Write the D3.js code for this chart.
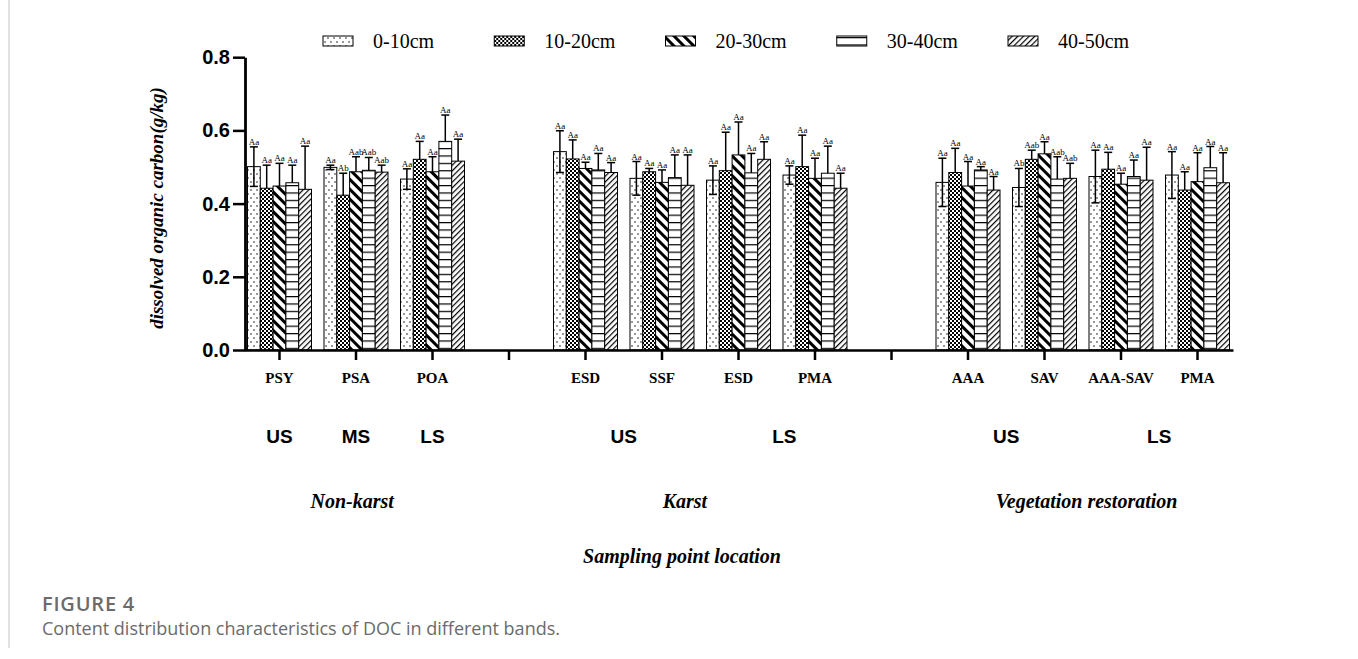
<!DOCTYPE html>
<html>
<head>
<meta charset="utf-8">
<script src="https://cdn.jsdelivr.net/npm/d3@7/dist/d3.min.js"></script>
<style>
  html, body { margin: 0; padding: 0; background: #fff; }
  svg { display: block; }
</style>
</head>
<body>
<svg id="chart" width="1358" height="659"></svg>
<script>
// ---------------- DATA ----------------
const categoryLabels = ["PSY","PSA","POA","","ESD","SSF","ESD","PMA","","AAA","SAV","AAA-SAV","PMA"];
const seriesNames = ["0-10cm","10-20cm","20-30cm","30-40cm","40-50cm"];

const mean0_10  = [0.501,0.499,0.467,null,0.542,0.469,0.464,0.478,null,0.458,0.444,0.474,0.478];
const mean10_20 = [0.442,0.423,0.521,null,0.522,0.487,0.490,0.501,null,0.485,0.521,0.494,0.437];
const mean20_30 = [0.448,0.487,0.487,null,0.496,0.458,0.533,0.469,null,0.448,0.536,0.453,0.460];
const mean30_40 = [0.457,0.491,0.570,null,0.492,0.471,0.484,0.483,null,0.492,0.467,0.474,0.498];
const mean40_50 = [0.439,0.486,0.516,null,0.485,0.450,0.521,0.442,null,0.437,0.469,0.464,0.457];

const err0_10  = [0.054,0.006,0.028,null,0.057,0.046,0.039,0.025,null,0.066,0.052,0.072,0.064];
const err10_20 = [0.063,0.060,0.049,null,0.052,0.009,0.105,0.086,null,0.066,0.025,0.046,0.050];
const err20_30 = [0.062,0.041,0.041,null,0.017,0.034,0.090,0.055,null,0.067,0.033,0.030,0.079];
const err30_40 = [0.048,0.035,0.072,null,0.045,0.062,0.053,0.074,null,0.009,0.061,0.045,0.058];
const err40_50 = [0.118,0.019,0.060,null,0.027,0.083,0.048,0.041,null,0.037,0.041,0.090,0.082];

const sig0_10  = ["Aa","Aa","Aa","","Aa","Aa","Aa","Aa","","Aa","Ab","Aa","Aa"];
const sig10_20 = ["Aa","Ab","Aa","","Aa","Aa","Aa","Aa","","Aa","Aab","Aa","Aa"];
const sig20_30 = ["Aa","Aab","Aa","","Aa","Aa","Aa","Aa","","Aa","Aa","Aa","Aa"];
const sig30_40 = ["Aa","Aab","Aa","","Aa","Aa","Aa","Aa","","Aa","Aab","Aa","Aa"];
const sig40_50 = ["Aa","Aab","Aa","","Aa","Aa","Aa","Aa","","Aa","Aab","Aa","Aa"];

const yTicks = [0.0, 0.2, 0.4, 0.6, 0.8];

const stageLabels  = ["US","MS","LS","US","LS","US","LS"];
const stageAnchors = [0, 1, 2, 4.5, 6.6, 9.5, 11.5];   // category index positions
const regionLabels  = ["Non-karst","Karst","Vegetation restoration"];
const regionAnchors = [0.95, 5.3, 10.55];
const yTitle = "dissolved organic carbon(g/kg)";
const xTitle = "Sampling point location";
const figTitle = "FIGURE 4";
const figCaption = "Content distribution characteristics of DOC in different bands.";

// ---------------- BUILD ----------------
const means = [mean0_10, mean10_20, mean20_30, mean30_40, mean40_50];
const errs  = [err0_10, err10_20, err20_30, err30_40, err40_50];
const sigs  = [sig0_10, sig10_20, sig20_30, sig30_40, sig40_50];
const patIds = ["p-dots","p-check","p-thick","p-horiz","p-thin"];

const svg = d3.select("#chart");
const SERIF = "'Liberation Serif','Times New Roman',serif";
const SANS = "'Liberation Sans',Arial,sans-serif";
const CAP = "'Open Sans',Lato,sans-serif";

// patterns
const defs = svg.append("defs");
{
  const p = defs.append("pattern").attr("id","p-dots").attr("patternUnits","userSpaceOnUse")
    .attr("width",6).attr("height",8);
  p.append("circle").attr("cx",2).attr("cy",2).attr("r",0.75).attr("fill","#000");
  p.append("circle").attr("cx",5).attr("cy",6).attr("r",0.75).attr("fill","#000");
}
{
  const p = defs.append("pattern").attr("id","p-check").attr("patternUnits","userSpaceOnUse")
    .attr("width",4).attr("height",4);
  p.append("rect").attr("width",4).attr("height",4).attr("fill","#fff");
  p.append("rect").attr("x",0).attr("y",0).attr("width",2).attr("height",2).attr("fill","#000");
  p.append("rect").attr("x",2).attr("y",2).attr("width",2).attr("height",2).attr("fill","#000");
}
{
  const p = defs.append("pattern").attr("id","p-thick").attr("patternUnits","userSpaceOnUse")
    .attr("width",7).attr("height",7).attr("patternTransform","rotate(-45)");
  p.append("rect").attr("width",7).attr("height",7).attr("fill","#fff");
  p.append("rect").attr("x",0).attr("y",0).attr("width",3).attr("height",7).attr("fill","#000");
}
{
  const p = defs.append("pattern").attr("id","p-horiz").attr("patternUnits","userSpaceOnUse")
    .attr("width",4).attr("height",7.4);
  p.append("rect").attr("width",4).attr("height",7.4).attr("fill","#fff");
  p.append("rect").attr("x",0).attr("y",0).attr("width",4).attr("height",1.2).attr("fill","#000");
}
{
  const p = defs.append("pattern").attr("id","p-thin").attr("patternUnits","userSpaceOnUse")
    .attr("width",4).attr("height",4).attr("patternTransform","rotate(45)");
  p.append("rect").attr("width",4).attr("height",4).attr("fill","#fff");
  p.append("rect").attr("x",0).attr("y",0).attr("width",1.2).attr("height",4).attr("fill","#000");
}

// page frame line
svg.append("line").attr("x1",9).attr("x2",9).attr("y1",0).attr("y2",648)
  .attr("stroke","#cfcfcf").attr("stroke-width",1.2);

// scales
const idx = d3.range(categoryLabels.length);
const x = d3.scaleBand().domain(idx).range([244, 1233]).paddingInner(0).paddingOuter(-0.036);
const groupWidth = 64;
const xs = d3.scaleBand().domain(d3.range(seriesNames.length)).range([0, groupWidth]);
const y = d3.scaleLinear().domain([0, 0.8]).range([350, 57.2]);

// error bars (drawn first, bars with white fill cover them)
const plot = svg.append("g");
const records = [];
idx.forEach(i => {
  seriesNames.forEach((s, k) => {
    if (means[k][i] == null) return;
    records.push({ i, k, v: means[k][i], e: errs[k][i], sig: sigs[k][i] });
  });
});
const cx = d => x(d.i) + x.bandwidth()/2 - groupWidth/2 + xs(d.k) + xs.bandwidth()/2;

const eb = plot.append("g").selectAll("g").data(records).join("g");
eb.append("line")
  .attr("x1", cx).attr("x2", cx)
  .attr("y1", d => y(d.v - d.e)).attr("y2", d => y(d.v + d.e))
  .attr("stroke","#000").attr("stroke-width",1.5);
eb.append("line")
  .attr("x1", d => cx(d) - 4).attr("x2", d => cx(d) + 4)
  .attr("y1", d => y(d.v + d.e)).attr("y2", d => y(d.v + d.e))
  .attr("stroke","#000").attr("stroke-width",1.5);
eb.append("line")
  .attr("x1", d => cx(d) - 4).attr("x2", d => cx(d) + 4)
  .attr("y1", d => y(d.v - d.e)).attr("y2", d => y(d.v - d.e))
  .attr("stroke","#000").attr("stroke-width",1.5);

// bars
plot.append("g").selectAll("rect").data(records).join("rect")
  .attr("x", d => cx(d) - xs.bandwidth()/2)
  .attr("width", xs.bandwidth())
  .attr("y", d => y(d.v))
  .attr("height", d => y(0) - y(d.v))
  .attr("fill", d => `url(#${patIds[d.k]})`)
  .attr("stroke","#000").attr("stroke-width",1);

// significance letters
plot.append("g").selectAll("text").data(records).join("text")
  .attr("x", cx)
  .attr("y", d => y(d.v + d.e) - 2)
  .attr("text-anchor","middle")
  .attr("font-family", SERIF).attr("font-size", 9)
  .text(d => d.sig);

// axes
const xAxis = svg.append("g").attr("transform","translate(0,350)")
  .call(d3.axisBottom(x).tickSize(10).tickSizeOuter(0).tickPadding(12)
    .tickFormat(i => categoryLabels[i]));
xAxis.select(".domain").attr("stroke-width",2.5);
xAxis.selectAll(".tick line").attr("stroke-width",2.5);
xAxis.selectAll("text").attr("font-family",SERIF).attr("font-weight","bold")
  .attr("font-size",15).attr("fill","#000");

const yAxis = svg.append("g").attr("transform","translate(245,0)")
  .call(d3.axisLeft(y).tickValues(yTicks).tickFormat(d3.format(".1f"))
    .tickSize(12).tickSizeOuter(0).tickPadding(3));
yAxis.select(".domain").attr("stroke-width",2.8);
yAxis.selectAll(".tick line").attr("stroke-width",2.5);
yAxis.selectAll("text").attr("font-family",SANS).attr("font-weight","bold")
  .attr("font-size",20).attr("fill","#000");

// y title
svg.append("text")
  .attr("transform","translate(163,208) rotate(-90)")
  .attr("text-anchor","middle")
  .attr("font-family",SERIF).attr("font-weight","bold").attr("font-style","italic")
  .attr("font-size",19)
  .text(yTitle);

// legend
const legendX = d3.scalePoint().domain(seriesNames).range([323, 1008]);
const lg = svg.append("g").selectAll("g").data(seriesNames).join("g")
  .attr("transform", d => `translate(${legendX(d)},0)`);
lg.append("rect").attr("x",0).attr("y",36).attr("width",30).attr("height",10)
  .attr("fill",(d,k)=>`url(#${patIds[k]})`).attr("stroke","#000").attr("stroke-width",1);
lg.append("text").attr("x",50).attr("y",48)
  .attr("font-family",SERIF).attr("font-size",20).text(d => d);

// stage labels
const bandCenter = a => x(Math.floor(a)) + x.bandwidth()/2 + (a - Math.floor(a)) * x.step();
svg.append("g").selectAll("text").data(stageLabels).join("text")
  .attr("x", (d,j) => bandCenter(stageAnchors[j]))
  .attr("y", 443)
  .attr("text-anchor","middle")
  .attr("font-family",SANS).attr("font-weight","bold").attr("font-size",19)
  .text(d => d);

// region labels
svg.append("g").selectAll("text").data(regionLabels).join("text")
  .attr("x", (d,j) => bandCenter(regionAnchors[j]))
  .attr("y", 508)
  .attr("text-anchor","middle")
  .attr("font-family",SERIF).attr("font-weight","bold").attr("font-style","italic")
  .attr("font-size",20)
  .text(d => d);

// x title
svg.append("text").attr("x",682).attr("y",563).attr("text-anchor","middle")
  .attr("font-family",SERIF).attr("font-weight","bold").attr("font-style","italic")
  .attr("font-size",20).text(xTitle);

// caption
svg.append("text").attr("x",42).attr("y",611)
  .attr("font-family",CAP).attr("font-weight",600)
  .attr("font-size",20).attr("letter-spacing",0.8).attr("fill","#6b6b6b").text(figTitle);
svg.append("text").attr("x",42).attr("y",635)
  .attr("font-family",CAP)
  .attr("font-size",18).attr("fill","#6b6b6b").text(figCaption);
</script>
</body>
</html>
